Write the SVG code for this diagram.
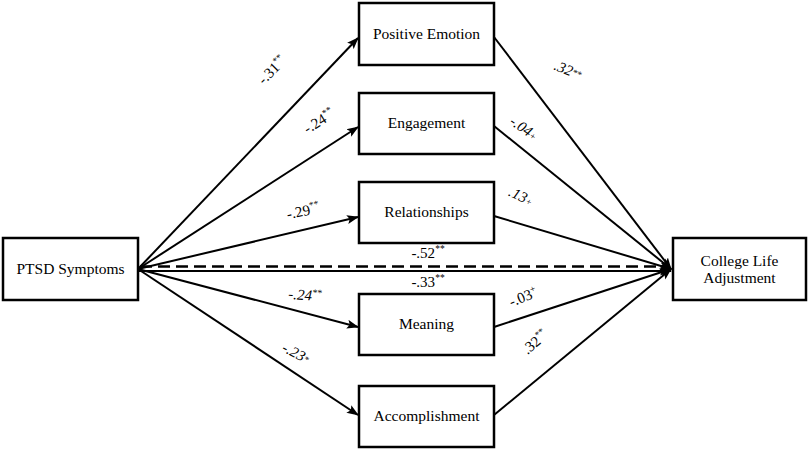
<svg xmlns="http://www.w3.org/2000/svg" width="809" height="451" viewBox="0 0 809 451">
<style>
.box{fill:#fff;stroke:#000;stroke-width:2.5}
.nt{font-family:"Liberation Serif","Times New Roman",serif;font-size:15.5px;fill:#000;text-anchor:middle}
.lb{font-family:"Liberation Serif","Times New Roman",serif;font-size:15px;fill:#000;text-anchor:middle}
.it{font-style:italic}
.sup{font-size:9.5px}
.ln{stroke:#000;stroke-width:2;fill:none}
.ds{stroke:#000;stroke-width:2.5;fill:none;stroke-dasharray:12,6}
</style>
<defs>
<marker id="ah" markerUnits="userSpaceOnUse" markerWidth="12" markerHeight="10" viewBox="0 0 12 10" refX="11" refY="5" orient="auto">
<path d="M0,0.5 L12,5 L0,9.5 L2.5,5 Z" fill="#000"/>
</marker>
</defs>
<rect width="809" height="451" fill="#fff"/>
<g id="connectors">
<line class="ln" x1="138" y1="269" x2="358" y2="38" marker-end="url(#ah)"/>
<line class="ln" x1="138" y1="269" x2="358" y2="127" marker-end="url(#ah)"/>
<line class="ln" x1="138" y1="269" x2="358" y2="217" marker-end="url(#ah)"/>
<line class="ln" x1="138" y1="269" x2="358" y2="327" marker-end="url(#ah)"/>
<line class="ln" x1="138" y1="269" x2="358" y2="415" marker-end="url(#ah)"/>
<line class="ln" x1="494" y1="37" x2="671" y2="269" marker-end="url(#ah)"/>
<line class="ln" x1="494" y1="126" x2="671" y2="269" marker-end="url(#ah)"/>
<line class="ln" x1="494" y1="216" x2="671" y2="269" marker-end="url(#ah)"/>
<line class="ln" x1="494" y1="327" x2="671" y2="269" marker-end="url(#ah)"/>
<line class="ln" x1="494" y1="415" x2="671" y2="269" marker-end="url(#ah)"/>
<line class="ds" x1="140" y1="266.5" x2="668" y2="266.5"/>
<line class="ln" x1="138" y1="271" x2="671" y2="271" marker-end="url(#ah)"/>
</g>
<g id="labels">
<text class="lb" transform="translate(272,70) rotate(-45)" x="0" y="5">-.31<tspan class="sup" dy="-6">**</tspan></text>
<text class="lb" transform="translate(319,121) rotate(-32)" x="0" y="5">-.24<tspan class="sup" dy="-6">**</tspan></text>
<text class="lb" transform="translate(303,211) rotate(-12)" x="0" y="5">-.29<tspan class="sup" dy="-6">**</tspan></text>
<text class="lb it" transform="translate(568,70) rotate(22)" x="0" y="5">.32<tspan class="sup" dy="-2">**</tspan></text>
<text class="lb it" transform="translate(524,128) rotate(35)" x="0" y="5">-.04<tspan class="sup" dy="0">+</tspan></text>
<text class="lb it" transform="translate(521,196) rotate(25)" x="0" y="5">.13<tspan class="sup" dy="0">+</tspan></text>
<text class="lb" x="428" y="258">-.52<tspan class="sup" dy="-6">**</tspan></text>
<text class="lb" x="428" y="287">-.33<tspan class="sup" dy="-6">**</tspan></text>
<text class="lb it" transform="translate(305,295) rotate(4)" x="0" y="5">-.24<tspan class="sup" dy="-5">**</tspan></text>
<text class="lb it" transform="translate(296,353) rotate(28)" x="0" y="5">-.23<tspan class="sup" dy="-1">*</tspan></text>
<text class="lb" transform="translate(523,297) rotate(-22)" x="0" y="5">-.03<tspan class="sup" dy="-6">+</tspan></text>
<text class="lb" transform="translate(535,342) rotate(-40)" x="0" y="5">.32<tspan class="sup" dy="-6">**</tspan></text>
</g>
<g id="ptsd"><rect class="box" x="3" y="238" width="135" height="62"/><text class="nt" x="70.5" y="274">PTSD Symptoms</text></g>
<g id="positive-emotion"><rect class="box" x="359" y="3" width="135" height="62"/><text class="nt" x="426.5" y="39">Positive Emotion</text></g>
<g id="engagement"><rect class="box" x="359" y="93" width="135" height="61"/><text class="nt" x="426.5" y="128">Engagement</text></g>
<g id="relationships"><rect class="box" x="359" y="182" width="135" height="61"/><text class="nt" x="426.5" y="217">Relationships</text></g>
<g id="meaning"><rect class="box" x="359" y="294" width="135" height="61"/><text class="nt" x="426.5" y="329">Meaning</text></g>
<g id="accomplishment"><rect class="box" x="359" y="386" width="135" height="61"/><text class="nt" x="426.5" y="421">Accomplishment</text></g>
<g id="college"><rect class="box" x="673" y="238" width="133" height="62"/><text class="nt" x="739.5" y="266">College Life</text><text class="nt" x="739.5" y="283">Adjustment</text></g>
</svg>
